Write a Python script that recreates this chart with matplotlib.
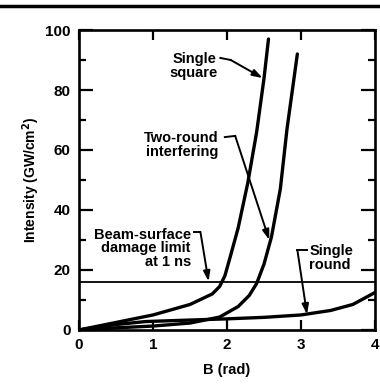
import matplotlib
matplotlib.use("Agg")
import matplotlib.pyplot as plt
from matplotlib.lines import Line2D
from matplotlib.ticker import MultipleLocator

plt.rcParams['font.family'] = ['Liberation Sans', 'DejaVu Sans']
plt.rcParams['font.weight'] = 'bold'

b_square = [0, 0.5, 1.0, 1.5, 1.8, 1.9, 1.97, 2.05, 2.15, 2.28, 2.4, 2.5, 2.56]
i_square = [0, 2.5, 5, 8.5, 12, 14.5, 18, 25, 34, 49, 66, 84, 97]

b_two = [0, 0.5, 1.0, 1.5, 1.9, 2.15, 2.3, 2.4, 2.5, 2.6, 2.72, 2.81, 2.95]
i_two = [0, 0.7, 1.3, 2.3, 4.3, 7.8, 11.5, 15.5, 22, 31, 47, 67, 92]

b_round = [0, 0.5, 0.9, 1.5, 2.0, 2.5, 3.0, 3.4, 3.7, 4.0]
i_round = [0, 1.8, 2.8, 3.3, 3.7, 4.2, 5, 6.5, 8.5, 12.5]

damage_limit = 16

x_ticks = [0, 1, 2, 3, 4]
y_ticks = [0, 20, 40, 60, 80, 100]

fig = plt.figure(figsize=(3.8, 3.85), dpi=100)
ax = fig.add_axes([0.208, 0.143, 0.779, 0.779])

ax.plot(b_square, i_square, color='k', lw=2.4, solid_capstyle='round', solid_joinstyle='round')
ax.plot(b_two, i_two, color='k', lw=2.4, solid_capstyle='round', solid_joinstyle='round')
ax.plot(b_round, i_round, color='k', lw=2.4, solid_capstyle='round', solid_joinstyle='round')
ax.axhline(damage_limit, color='k', lw=1.3)

ax.set_xlim(0, 4)
ax.set_ylim(0, 100)
ax.set_xticks(x_ticks)
ax.set_yticks(y_ticks)
ax.yaxis.set_minor_locator(MultipleLocator(10))
ax.tick_params(which='major', direction='in', top=True, right=True, length=10, width=1.6,
               labelsize=11, pad=6)
ax.tick_params(which='minor', direction='in', top=False, right=True, length=5, width=1.6)
ax.tick_params(axis='x', which='major', length=7)
for s in ax.spines.values():
    s.set_linewidth(1.9)

ax.set_xlabel('B (rad)', fontsize=10.5, fontweight='bold', labelpad=8)
ax.set_ylabel('Intensity (GW/cm$^\\mathbf{2}$)', fontsize=10, fontweight='bold', labelpad=2)

def label(text, xy, stub, tip, ha, ma):
    ax.text(xy[0], xy[1], text, ha=ha, va='center', multialignment=ma,
            fontsize=10.5, fontweight='bold', linespacing=0.95)
    ax.plot([stub[0], stub[2]], [stub[1], stub[3]], color='k', lw=1.4)
    ax.annotate('', xy=tip, xytext=(stub[2], stub[3]),
                arrowprops=dict(arrowstyle='-|>,head_length=0.6,head_width=0.2', lw=1.4,
                                color='k', mutation_scale=10, shrinkA=0, shrinkB=0))

label('Single\nsquare', (1.88, 88), (1.91, 90.7, 2.05, 90), (2.48, 84), 'right', 'center')
label('Two-round\ninterfering', (1.88, 61.7), (1.97, 64.3, 2.11, 64.7), (2.57, 30), 'right', 'right')
label('Beam-surface\ndamage limit\nat 1 ns', (1.51, 27.3), (1.55, 32.7, 1.64, 32.7), (1.75, 16.2), 'right', 'right')
label('Single\nround', (3.11, 24), (3.08, 26.7, 2.95, 26.7), (3.08, 5.2), 'left', 'left')

fig.add_artist(Line2D([0, 1], [0.985, 0.985], transform=fig.transFigure, color='k', lw=2.5))

fig.savefig('out.png', dpi=100)
